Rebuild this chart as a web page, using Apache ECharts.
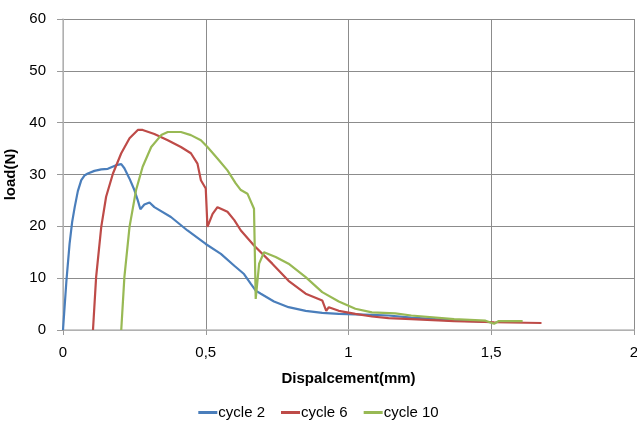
<!DOCTYPE html>
<html><head><meta charset="utf-8">
<script src="https://cdn.jsdelivr.net/npm/echarts@6/dist/echarts.min.js"></script>
<style>html,body{margin:0;padding:0;background:#fff}#c{width:637px;height:422px}</style>
</head><body><div id="c"></div>
<script>
var seriesNames = ['cycle 2','cycle 6','cycle 10'];
var xTicks = [0,0.5,1,1.5,2];
var cycle2X = [0,0.012,0.023,0.032,0.041,0.052,0.064,0.075,0.087,0.11,0.134,0.157,0.186,0.204,0.215,0.233,0.25,0.262,0.271,0.285,0.303,0.32,0.378,0.436,0.5,0.553,0.6,0.634,0.658,0.675,0.693,0.739,0.79,0.85,0.908,0.966,1.024,1.082,1.14,1.22,1.3,1.37,1.44,1.5];
var cycle2Y = [0,9.5,16.6,20.8,23.7,26.8,28.9,29.8,30.2,30.7,31.0,31.1,31.8,32.0,31.2,29.2,27.0,25.0,23.3,24.2,24.6,23.7,21.8,19.2,16.6,14.7,12.4,10.8,8.9,7.6,7.0,5.5,4.4,3.7,3.3,3.1,3.0,2.9,2.8,2.4,2.1,1.8,1.7,1.5];
var cycle6X = [0.105,0.116,0.134,0.151,0.175,0.204,0.233,0.262,0.279,0.32,0.367,0.413,0.448,0.471,0.483,0.5,0.506,0.524,0.541,0.553,0.576,0.6,0.623,0.669,0.733,0.79,0.85,0.908,0.922,0.931,0.966,1.024,1.082,1.14,1.22,1.37,1.51,1.676];
var cycle6Y = [0,10.2,19.9,25.7,30.2,34.1,37.0,38.6,38.6,37.8,36.6,35.3,34.1,32.1,28.9,27.3,19.9,22.4,23.7,23.4,22.8,21.2,19.2,16.3,12.8,9.5,7.0,5.7,3.7,4.4,3.7,3.1,2.6,2.3,2.1,1.7,1.5,1.35];
var cycle10X = [0.204,0.215,0.233,0.256,0.279,0.309,0.344,0.367,0.413,0.448,0.483,0.506,0.541,0.576,0.605,0.623,0.646,0.669,0.675,0.687,0.704,0.745,0.79,0.85,0.908,0.966,1.024,1.082,1.164,1.22,1.37,1.48,1.51,1.525,1.61];
var cycle10Y = [0,10.2,19.9,27.0,31.5,35.3,37.6,38.2,38.2,37.6,36.6,35.3,33.1,30.8,28.3,27.0,26.3,23.4,6.0,12.8,15.0,14.1,12.8,10.2,7.3,5.5,4.1,3.4,3.2,2.8,2.1,1.8,1.2,1.7,1.7];
var colors = ['#4A7EBB','#BE4B48','#98B954'];

function zip(xs, ys){ return xs.map(function(x,i){ return [x, ys[i]]; }); }
var allData = [zip(cycle2X,cycle2Y), zip(cycle6X,cycle6Y), zip(cycle10X,cycle10Y)];

var chart = echarts.init(document.getElementById('c'));
var font = 'Liberation Sans, Arial, sans-serif';
chart.setOption({
  animation:false,
  color: colors,
  grid:{left:63,right:3,top:19,bottom:92,containLabel:false,outerBoundsMode:'none'},
  legend:{
    data: seriesNames.map(function(n){return {name:n, icon:'rect'};}),
    top: 400, left:'center',
    itemWidth:19, itemHeight:3, itemGap:16,
    textStyle:{fontFamily:font,fontSize:15,color:'#000',padding:[0,0,0,-4]}
  },
  xAxis:{
    type:'value', min:0, max:2, interval:0.5,
    name:'Dispalcement(mm)', nameLocation:'middle', nameGap:41,
    nameTextStyle:{fontFamily:font,fontSize:15,fontWeight:'bold',color:'#000'},
    axisLine:{show:true,lineStyle:{color:'#BDBDBD',width:1.5}},
    axisTick:{show:true,length:5,lineStyle:{color:'#9A9A9A'}},
    axisLabel:{fontFamily:font,fontSize:15,color:'#000',margin:15,
      formatter:function(v){ return xTicks.indexOf(v)>=0 ? String(v).replace('.',',') : ''; }},
    splitLine:{show:true,lineStyle:{color:'#8C8C8C',width:1}}
  },
  yAxis:{
    type:'value', min:0, max:60, interval:10,
    name:'load(N)', nameLocation:'middle', nameGap:38,
    nameTextStyle:{fontFamily:font,fontSize:15,fontWeight:'bold',color:'#000'},
    axisLine:{show:true,lineStyle:{color:'#BDBDBD',width:1.5}},
    axisTick:{show:true,length:6,lineStyle:{color:'#9A9A9A'}},
    axisLabel:{fontFamily:font,fontSize:15,color:'#000',margin:17},
    splitLine:{show:true,lineStyle:{color:'#8C8C8C',width:1}}
  },
  series: seriesNames.map(function(n,i){
    return {name:n,type:'line',data:allData[i],showSymbol:false,symbol:'none',
      lineStyle:{width:2.2,color:colors[i]}, itemStyle:{color:colors[i]}};
  })
});
</script></body></html>
